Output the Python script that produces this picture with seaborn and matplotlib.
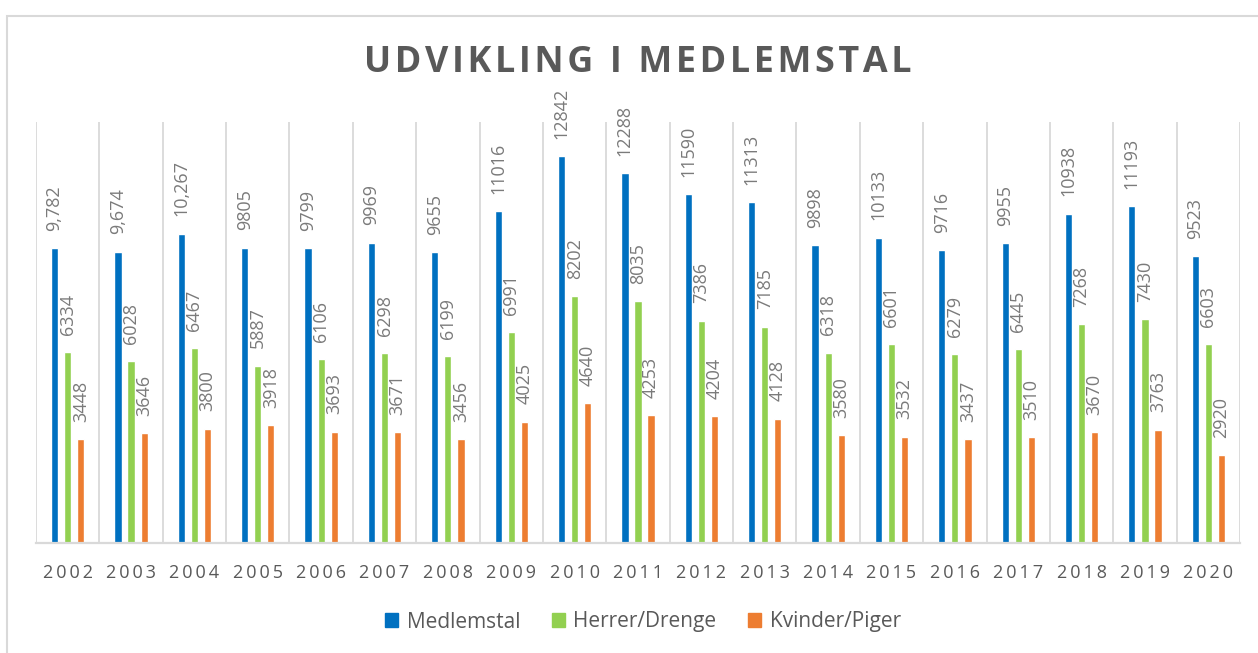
import numpy as np
import pandas as pd
import seaborn as sns
import matplotlib.pyplot as plt
from matplotlib.patches import Rectangle

years = [str(y) for y in range(2002, 2021)]
medlemstal = [9782, 9674, 10267, 9805, 9799, 9969, 9655, 11016, 12842, 12288,
              11590, 11313, 9898, 10133, 9716, 9955, 10938, 11193, 9523]
herrer = [6334, 6028, 6467, 5887, 6106, 6298, 6199, 6991, 8202, 8035,
          7386, 7185, 6318, 6601, 6279, 6445, 7268, 7430, 6603]
kvinder = [3448, 3646, 3800, 3918, 3693, 3671, 3456, 4025, 4640, 4253,
           4204, 4128, 3580, 3532, 3437, 3510, 3670, 3763, 2920]
# the first three blue labels are shown with a thousands separator
medlem_labels = ["9,782", "9,674", "10,267"] + [str(v) for v in medlemstal[3:]]

series_names = ["Medlemstal", "Herrer/Drenge", "Kvinder/Piger"]
colors = ["#0070C0", "#92D050", "#ED7D31"]

df = pd.DataFrame({
    "year": years * 3,
    "value": medlemstal + herrer + kvinder,
    "series": np.repeat(series_names, len(years)),
})

sns.set_theme(style="white")
plt.rcParams['font.family'] = ['Open Sans', 'DejaVu Sans']

fig = plt.figure(figsize=(12.58, 6.53), dpi=100)
ax = fig.add_axes([36 / 1258, 1 - 543 / 653, (1240 - 36) / 1258, (543 - 122) / 653])

sns.barplot(data=df, x="year", y="value", hue="series", palette=colors,
            width=0.62, gap=0.45, ax=ax, legend=False, saturation=1)

ax.set_ylim(0, 13980)
ax.set_xlim(-0.5, len(years) - 0.5)
ax.set_yticks([])
ax.set_xlabel("")
ax.set_ylabel("")
for s in ["left", "right", "top"]:
    ax.spines[s].set_visible(False)
ax.spines["bottom"].set_color("#d9d9d9")
ax.spines["bottom"].set_linewidth(1.6)

# category separators
ax.set_xticks(np.arange(-0.5, len(years)), minor=True)
ax.grid(which="minor", axis="x", color="#d9d9d9", linewidth=1.3)
ax.tick_params(axis="x", which="both", length=0, pad=15)
ax.set_xticks(range(len(years)))
ax.set_xticklabels(["\u2009".join(y) for y in years], fontsize=13, color="#595959")

# value labels
all_labels = [medlem_labels, [str(v) for v in herrer], [str(v) for v in kvinder]]
for cont, labs in zip(ax.containers, all_labels):
    for bar, lab in zip(cont, labs):
        ax.annotate(lab, (bar.get_x() + bar.get_width() / 2, bar.get_height()),
                    xytext=(0, 12.5), textcoords="offset points",
                    rotation=90, ha="center", va="bottom",
                    fontsize=13, color="#7a7a7a")

fig.text(0.507, 1 - 63 / 653, "\u200a".join("UDVIKLING I MEDLEMSTAL"),
         ha="center", va="center", fontsize=25.8, fontweight="bold", color="#595959")

handles = [Rectangle((0, 0), 1, 1, color=c) for c in colors]
fig.legend(handles, series_names, loc="center", bbox_to_anchor=(0.511, 1 - 622 / 653),
           ncol=3, frameon=False, fontsize=15, handlelength=0.65, handleheight=0.65,
           handletextpad=0.4, columnspacing=1.5, labelcolor="#595959")

# outer chart border
fig.patches.append(Rectangle((7 / 1258, -0.1), 1.2, 1 - 16 / 653 + 0.1,
                             transform=fig.transFigure, fill=False,
                             edgecolor="#d9d9d9", linewidth=1.5))

fig.savefig("out.png", dpi=100)
